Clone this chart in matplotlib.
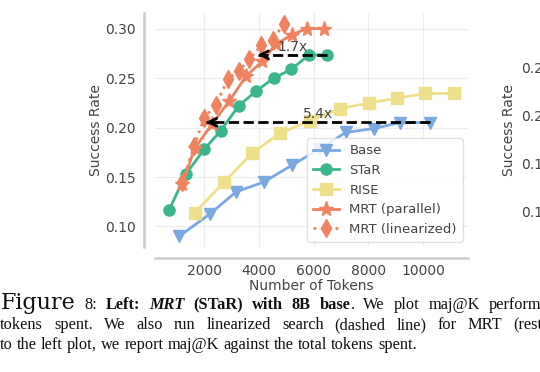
import matplotlib
matplotlib.use("Agg")
import matplotlib.pyplot as plt

# values
base_x = [1080, 2220, 3165, 4180, 5210, 6200, 7170, 8190, 9170, 10270]
base_y = [0.090, 0.113, 0.135, 0.145, 0.162, 0.178, 0.195, 0.199, 0.205, 0.205]
star_x = [720, 1330, 2000, 2610, 3260, 3900, 4550, 5190, 5830, 6500]
star_y = [0.117, 0.153, 0.178, 0.197, 0.222, 0.237, 0.250, 0.259, 0.2735, 0.2735]
rise_x = [1650, 2735, 3740, 4760, 5860, 6960, 8040, 9050, 10090, 11130]
rise_y = [0.114, 0.145, 0.174, 0.194, 0.207, 0.219, 0.225, 0.2295, 0.2345, 0.2345]
mrt_par_x = [1200, 1650, 2300, 2920, 3530, 4120, 4610, 5220, 5740, 6375]
mrt_par_y = [0.143, 0.179, 0.204, 0.227, 0.252, 0.267, 0.284, 0.294, 0.300, 0.300]
mrt_lin_x = [1200, 1630, 2000, 2430, 2860, 3260, 3650, 4080, 4510, 4900]
mrt_lin_y = [0.145, 0.181, 0.210, 0.223, 0.249, 0.257, 0.269, 0.283, 0.288, 0.305]

# speed-up arrows: (label, start x, tip x, y)
arrows = [("1.7x", 6500, 3950, 0.2735), ("5.4x", 10270, 2060, 0.2054)]

x_ticks = [2000, 4000, 6000, 8000, 10000]
y_ticks = [0.10, 0.15, 0.20, 0.25, 0.30]
right_ticks = [0.10, 0.15, 0.20, 0.25]

c_base = "#7aa8e0"
c_star = "#3bb68b"
c_rise = "#eedf8a"
c_mrt = "#f0825f"
grey = "#444444"

plt.rcParams["font.family"] = "DejaVu Sans"
fig = plt.figure(figsize=(5.4, 3.72), dpi=100)
ax = fig.add_axes([0.287, 0.336, 0.580, 0.629])

ax.plot(base_x, base_y, marker="v", ms=8, lw=2, color=c_base, label="Base")
ax.plot(star_x, star_y, marker="o", ms=8, lw=2, color=c_star, label="STaR")
ax.plot(rise_x, rise_y, marker="s", ms=8, lw=2, color=c_rise, label="RISE")
ax.plot(mrt_par_x, mrt_par_y, marker="*", ms=11, lw=2, color=c_mrt, label="MRT (parallel)")
ax.plot(mrt_lin_x, mrt_lin_y, marker="d", ms=9, lw=2, ls=":", color=c_mrt, label="MRT (linearized)")

for lab, x0, x1, y in arrows:
    ax.plot([x0, x1], [y, y], ls="--", lw=2, color="black", zorder=5)
    ax.annotate("", xy=(x1, y), xytext=(x1 + 250, y),
                arrowprops=dict(arrowstyle="->", lw=2, color="black", shrinkA=0, shrinkB=0,
                                mutation_scale=14), zorder=5)
    ax.text((x0 + x1) / 2, y + 0.001, lab, ha="center", va="bottom", fontsize=10, color=grey, zorder=6)

ax.set_xticks(x_ticks)
ax.set_yticks(y_ticks)
ax.set_xlabel("Number of Tokens", fontsize=10, color=grey, labelpad=1)
ax.set_ylabel("Success Rate", fontsize=10, color=grey, labelpad=1)
ax.tick_params(length=0, labelsize=10, labelcolor=grey, pad=4)
ax.tick_params(axis="y", pad=6)
ax.grid(True, color="#ececec", lw=0.8)
ax.set_axisbelow(True)
for s in ["top", "right"]:
    ax.spines[s].set_visible(False)
for s in ["left", "bottom"]:
    ax.spines[s].set_position(("outward", 8))
    ax.spines[s].set_color("#cccccc")
    ax.spines[s].set_linewidth(1.8)

leg = ax.legend(loc="lower right", fontsize=9.5, framealpha=0.85, edgecolor="#dddddd",
                labelspacing=0.5, borderpad=0.45, borderaxespad=0.4)
for t in leg.get_texts():
    t.set_color(grey)

# second panel, mostly outside the crop
ax2 = fig.add_axes([1.035, 0.336, 0.5, 0.629])
ax2.set_ylim(0.0635, 0.307)
ax2.set_yticks(right_ticks)
ax2.set_xticks([])
ax2.set_ylabel("Success Rate", fontsize=10, color=grey)
ax2.tick_params(length=0, labelsize=10, labelcolor=grey, pad=5)
for s in ax2.spines.values():
    s.set_visible(False)

# caption (justified lines, like the paper)
renderer = fig.canvas.get_renderer()
W = fig.bbox.width
H = fig.bbox.height
serif = "Liberation Serif"
fs = 11.8
norm = dict(fontsize=fs)
bold = dict(fontsize=fs, weight="bold")
bita = dict(fontsize=fs, weight="bold", style="italic")
big = dict(fontsize=16, family="DejaVu Serif")


def measure(s, kw):
    kw = dict(kw)
    fam = kw.pop("family", serif)
    t = fig.text(0, 0, s, family=fam, **kw)
    w = t.get_window_extent(renderer).width
    t.remove()
    return w


space = measure("a a", norm) - measure("aa", norm)


def write_line(words, x0, y_px, anchor_x=None):
    widths = [sum(measure(s, kw) for s, kw in w) for w in words]
    gap = space
    if anchor_x is not None:
        n = len(words) - 1
        natural = x0 + sum(widths[:n]) + n * space
        gap = space + (anchor_x - natural) / n
    x = x0
    for w, wd in zip(words, widths):
        xx = x
        for s, kw in w:
            kw = dict(kw)
            fam = kw.pop("family", serif)
            fig.text(xx / W, 1 - y_px / H, s, va="baseline", ha="left",
                     family=fam, color="#111111", **kw)
            xx += measure(s, dict(kw, family=fam))
        x += wd + gap


def plain(text, kw=norm):
    return [[(w, kw)] for w in text.split()]


line1 = ([[("Figure", big)], [("8:", norm)], [("Left:", bold)], [("MRT", bita)]]
         + plain("(STaR) with 8B", bold) + [[("base", bold), (".", norm)]]
         + plain("We plot maj@K performance"))
line2 = plain("tokens spent. We also run linearized search (dashed line) for MRT (restarts)")
line3 = plain("to the left plot, we report maj@K against the total tokens spent.")

write_line(line1, 1, 309, anchor_x=541 - measure("perform", norm))
write_line(line2, 0, 329, anchor_x=538 - measure("(res", norm))
write_line(line3, 0, 349)

fig.savefig("out.png", dpi=100)
